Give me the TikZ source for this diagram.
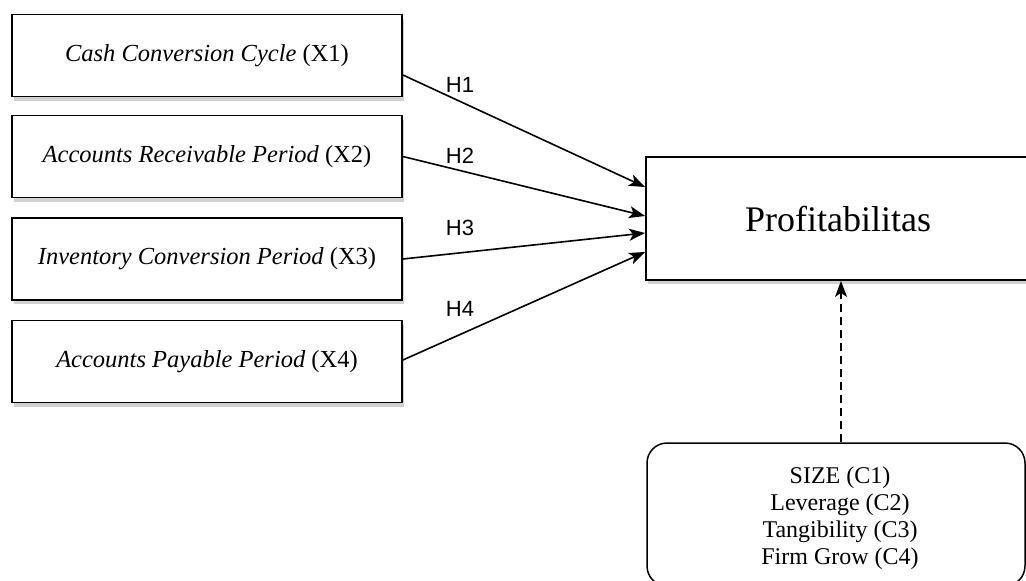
\documentclass[tikz,border=0pt]{standalone}
\usepackage{fontspec}
\setmainfont{Liberation Serif}
\newfontfamily\hsans{Liberation Sans}
\usetikzlibrary{arrows.meta,shadows,calc}
\begin{document}
\begin{tikzpicture}[x=1pt,y=-1pt,
  varbox/.style={draw,line width=1.8pt,fill=white,minimum width=390pt,minimum height=82pt,inner sep=0pt,font=\fontsize{24.5}{27}\selectfont,
    drop shadow={shadow xshift=2pt,shadow yshift=-4pt,opacity=0.18,fill=black}},
  hyp/.style={font=\hsans\fontsize{22}{24}\selectfont,inner sep=0pt},
  harrow/.style={line width=1.6pt,-{Stealth[length=16pt,width=12pt,inset=4pt]}},
]
\useasboundingbox (0,0) rectangle (1026,581);
\fill[white] (0,0) rectangle (1026,581);
\node[varbox] (x1) at (207,55.5) {\textit{Cash Conversion Cycle} (X1)};
\node[varbox] (x2) at (207,156.5) {\textit{Accounts Receivable Period} (X2)};
\node[varbox] (x3) at (207,259) {\textit{Inventory Conversion Period} (X3)};
\node[varbox] (x4) at (207,361.5) {\textit{Accounts Payable Period} (X4)};
\node[varbox,minimum width=384pt,minimum height=123pt,font=\fontsize{36}{40}\selectfont] (p) at (838,218.5) {Profitabilitas};
\node[draw,line width=1.5pt,rounded corners=20pt,fill=white,minimum width=378pt,minimum height=143pt,inner sep=0pt] (c) at (836,514.5) {};
\node[align=center,inner sep=0pt,font=\fontsize{24}{27}\selectfont] (ct) at (840,518)
  {SIZE (C1)\\Leverage (C2)\\Tangibility (C3)\\Firm Grow (C4)};
\draw[harrow] ([yshift=-19.5pt]x1.east) -- ([yshift=31.5pt]p.west);
\draw[harrow] (x2.east) -- ([yshift=2.5pt]p.west);
\draw[harrow] (x3.east) -- ([yshift=-14.5pt]p.west);
\draw[harrow] ([yshift=1.5pt]x4.east) -- ([yshift=-33.5pt]p.west);
\node[hyp] (h1) at (460,85) {H1};
\node[hyp] (h2) at (460,156) {H2};
\node[hyp] (h3) at (460,228) {H3};
\node[hyp] (h4) at (460,309) {H4};
\draw[line width=1.5pt,dash pattern=on 8pt off 5pt,-{Stealth[length=16pt,width=12pt,inset=4pt]}] ([xshift=5pt]c.north) -- ([xshift=5pt]c.north |- p.south);
\end{tikzpicture}
\end{document}
